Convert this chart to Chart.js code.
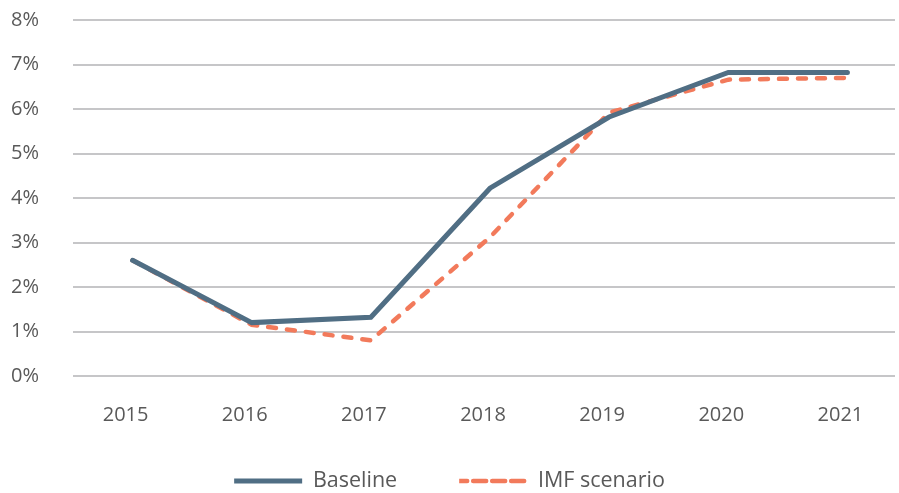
<!DOCTYPE html>
<html>
<head>
<meta charset="utf-8">
<script src="https://cdn.jsdelivr.net/npm/chart.js@4/dist/chart.umd.min.js"></script>
<style>
  html, body { margin: 0; padding: 0; background: #fff; }
  #wrap { width: 899px; height: 493px; position: relative; }
</style>
</head>
<body>
<div id="wrap"><canvas id="chart"></canvas></div>
<script>
const years = ['2015', '2016', '2017', '2018', '2019', '2020', '2021'];
const baseline = [2.6, 1.2, 1.32, 4.22, 5.82, 6.82, 6.82];
const imfScenario = [2.6, 1.15, 0.8, 3.12, 5.92, 6.66, 6.7];
const yTicks = [0, 1, 2, 3, 4, 5, 6, 7, 8];

const TEXT = '#595959';
const FONT = '"Open Sans", Lato, sans-serif';
const LEGEND_SIZE = 21.5;
const LEGEND_PAD = 62;
const GRID_RIGHT = 895; // where the gridlines stop
const XSCALE_RIGHT = 907; // category slots run a little past them

// wide gap between legend items, but keep the legend low and short;
// also let the category slots run past the gridlines like the original
const layoutFix = {
  id: 'layoutFix',
  beforeLayout(chart) {
    const lg = chart.legend;
    if (lg && !lg._patched) {
      const fit = lg.fit;
      lg.fit = function () { fit.call(this); this.height = 40; };
      lg._patched = true;
    }
  },
  afterLayout(chart) {
    const lg = chart.legend;
    const top = 481 - LEGEND_PAD - LEGEND_SIZE / 2;
    lg.top = top;
    lg.bottom = chart.height;
    lg.height = chart.height - top;

    const area = chart.chartArea;
    area.right = GRID_RIGHT;
    area.width = area.right - area.left;

    const x = chart.scales.x;
    x.right = XSCALE_RIGHT;
    x.width = x.right - x.left;
    x.configure();
  },
};

new Chart(document.getElementById('chart').getContext('2d'), {
  type: 'line',
  data: {
    labels: years,
    datasets: [
      {
        label: 'Baseline',
        data: baseline,
        borderColor: '#506e84',
        backgroundColor: '#506e84',
        borderWidth: 5,
        borderCapStyle: 'round',
        pointRadius: 0,
        tension: 0,
      },
      {
        label: 'IMF scenario',
        data: imfScenario,
        borderColor: '#f27a5b',
        backgroundColor: '#f27a5b',
        borderWidth: 4.5,
        borderDash: [8, 11],
        borderCapStyle: 'round',
        pointRadius: 0,
        tension: 0,
      },
    ],
  },
  options: {
    responsive: true,
    maintainAspectRatio: false,
    animation: false,
    layout: { padding: 0 },
    plugins: {
      tooltip: { enabled: false },
      legend: {
        position: 'bottom',
        labels: {
          color: TEXT,
          font: { family: FONT, size: LEGEND_SIZE },
          boxWidth: 68,
          boxHeight: 0,
          padding: LEGEND_PAD,
        },
      },
    },
    scales: {
      x: {
        offset: true,
        grid: { display: false, drawTicks: false },
        border: { display: false },
        ticks: { color: TEXT, font: { family: FONT, size: 20 }, padding: 27, labelOffset: -7 },
        afterFit: (scale) => { scale.height = 77; },
      },
      y: {
        min: 0,
        max: 8,
        afterBuildTicks: (axis) => { axis.ticks = yTicks.map((v) => ({ value: v })); },
        grid: { color: '#c6c6c8', lineWidth: 2, drawTicks: false },
        border: { display: false },
        ticks: {
          color: TEXT,
          font: { family: FONT, size: 20 },
          padding: 34,
          callback: (v) => v + '%',
        },
        afterFit: (scale) => {
          scale.width = 73;
          scale.paddingTop = 20;
          scale.paddingBottom = 0;
        },
      },
    },
  },
  plugins: [layoutFix],
});
</script>
</body>
</html>
